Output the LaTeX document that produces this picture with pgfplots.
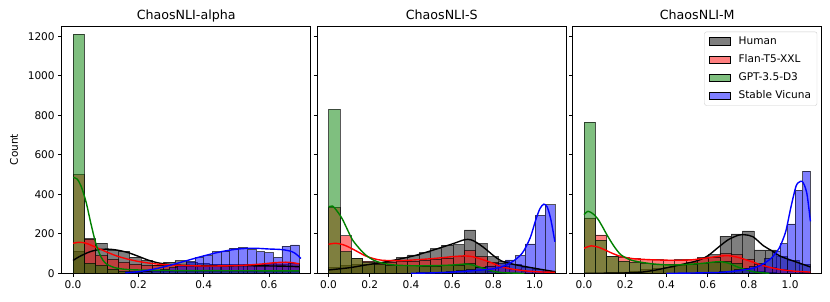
\documentclass[border=0pt]{standalone}
\usepackage{fontspec}
\setmainfont{DejaVu Sans}
\usepackage{pgfplots}
\usepackage{pgfplotstable}
\pgfplotsset{compat=1.18}
\definecolor{mplgreen}{HTML}{008000}

% ---------- ChaosNLI-alpha ----------
\pgfplotstableread{
x hum fla gpt
0.0000 112 500 1211
0.0347 175 173 52
0.0693 153 90 40
0.1040 116 70 22
0.1386 112 55 12
0.1733 82 45 9
0.2079 65 40 8
0.2426 43 40 8
0.2773 56 40 8
0.3119 64 38 8
0.3466 55 38 8
0.3812 50 38 8
0.4159 46 40 8
0.4505 45 40 9
0.4852 45 42 9
0.5199 45 45 10
0.5545 45 48 10
0.5892 45 52 10
0.6238 48 55 12
0.6585 50 50 12
0.6931 0 0 0
}\pA
\pgfplotstableread{
x v
0.1600 3
0.1867 5
0.2133 8
0.2400 13
0.2666 20
0.2933 28
0.3199 40
0.3466 60
0.3732 80
0.3999 90
0.4266 110
0.4532 113
0.4799 127
0.5065 130
0.5332 120
0.5598 110
0.5865 105
0.6132 80
0.6398 138
0.6665 144
0.6931 0
}\pAv
% ---------- ChaosNLI-S ----------
\pgfplotstableread{
x hum fla gpt
0.0000 30 334 830
0.0549 40 190 110
0.1099 45 75 76
0.1648 48 62 55
0.2197 52 58 45
0.2747 65 58 42
0.3296 80 60 40
0.3845 93 62 40
0.4394 105 65 38
0.4944 125 70 38
0.5493 143 78 40
0.6042 145 85 42
0.6592 220 115 50
0.7141 150 85 30
0.7690 85 55 12
0.8240 60 35 5
0.8789 45 22 2
0.9338 30 12 1
0.9887 20 8 0
1.0437 12 5 0
1.0986 0 0 0
}\pB
\pgfplotstableread{
x v
0.3306 1
0.3786 2
0.4266 3
0.4746 5
0.5226 7
0.5706 10
0.6186 14
0.6666 20
0.7146 28
0.7626 38
0.8106 50
0.8586 68
0.9066 90
0.9546 149
1.0026 293
1.0506 347
1.0986 0
}\pBv
% ---------- ChaosNLI-M ----------
\pgfplotstableread{
x hum fla gpt
0.0000 2 280 765
0.0549 2 195 168
0.1099 4 85 84
0.1648 7 80 62
0.2197 12 75 55
0.2747 18 70 50
0.3296 25 70 48
0.3845 32 68 45
0.4394 42 70 45
0.4944 55 72 48
0.5493 80 78 50
0.6042 95 82 55
0.6592 188 100 60
0.7141 200 95 50
0.7690 215 70 25
0.8240 118 45 10
0.8789 118 30 5
0.9338 85 18 2
0.9887 65 10 1
1.0437 45 5 0
1.0986 0 0 0
}\pC
\pgfplotstableread{
x v
0.4326 1
0.4696 1
0.5066 2
0.5436 3
0.5806 4
0.6176 6
0.6546 8
0.6916 12
0.7286 18
0.7656 25
0.8026 35
0.8396 50
0.8766 75
0.9136 110
0.9506 150
0.9876 250
1.0246 420
1.0616 517
1.0986 0
}\pCv

\pgfplotsset{
  histbase/.style={
    scale only axis, width=249bp, height=247.3bp,
    ymin=0, ymax=1252,
    axis line style={black, line width=0.8bp},
    tick align=outside, tick pos=left,
    major tick length=3.5bp,
    tick style={black, line width=0.8bp},
    ticklabel style={font=\fontsize{10.6}{12}\selectfont},
    /pgf/number format/assume math mode=true,
    /pgf/number format/1000 sep={},
    ytick={0,200,400,600,800,1000,1200},
    x tick label style={/pgf/number format/fixed, /pgf/number format/fixed zerofill, /pgf/number format/precision=1},
    every axis title/.style={at={(axis description cs:0.5,1)}, anchor=base, yshift=6bp, font=\fontsize{12.7}{15}\selectfont},
    every axis y label/.style={at={(axis description cs:-0.1916,0.5)}, rotate=90, anchor=center, font=\fontsize{10.6}{12}\selectfont},
  },
  hb/.style={ybar interval, fill=#1, fill opacity=0.5, draw=black, draw opacity=0.65, line width=0.55bp, forget plot},
  kd/.style={#1, line width=1.4bp, smooth, forget plot},
}

\begin{document}
\begin{tikzpicture}
% ===== Panel 1 =====
\begin{axis}[histbase, at={(61.7bp,28.7bp)}, anchor=south west,
  xmin=-0.0347, xmax=0.7278, xtick={0,0.2,0.4,0.6},
  title={ChaosNLI-alpha}, ylabel={Count}]
\addplot[hb=black] table[x=x,y=hum]{\pA};
\addplot[hb=red] table[x=x,y=fla]{\pA};
\addplot[hb=mplgreen] table[x=x,y=gpt]{\pA};
\addplot[hb=blue] table[x=x,y=v]{\pAv};
\addplot[kd=black] coordinates {(0,65) (0.02,85) (0.05,108) (0.08,120) (0.11,122) (0.14,116) (0.17,104) (0.2,86) (0.23,67) (0.26,53) (0.3,44) (0.35,40) (0.45,38) (0.55,38) (0.65,36) (0.693,33)};
\addplot[kd=red] coordinates {(0,152) (0.02,157) (0.04,152) (0.07,132) (0.1,110) (0.13,90) (0.16,75) (0.2,60) (0.25,48) (0.3,42) (0.4,37) (0.5,39) (0.57,46) (0.62,54) (0.66,56) (0.693,48)};
\addplot[kd=mplgreen] coordinates {(0,485) (0.012,478) (0.025,440) (0.04,360) (0.055,250) (0.07,150) (0.085,85) (0.1,50) (0.125,30) (0.16,20) (0.22,16) (0.3,14) (0.5,13) (0.693,12)};
\addplot[kd=blue] coordinates {(0.16,3) (0.2,8) (0.25,22) (0.3,42) (0.35,65) (0.4,88) (0.45,108) (0.5,122) (0.55,127) (0.6,123) (0.64,120) (0.67,110) (0.685,95) (0.698,75)};
\end{axis}
% ===== Panel 2 =====
\begin{axis}[histbase, at={(317.2bp,28.7bp)}, anchor=south west,
  xmin=-0.0549, xmax=1.1535, xtick={0,0.2,0.4,0.6,0.8,1.0}, yticklabels={},
  title={ChaosNLI-S}]
\addplot[hb=black] table[x=x,y=hum]{\pB};
\addplot[hb=red] table[x=x,y=fla]{\pB};
\addplot[hb=mplgreen] table[x=x,y=gpt]{\pB};
\addplot[hb=blue] table[x=x,y=v]{\pBv};
\addplot[kd=black] coordinates {(0,17) (0.1,28) (0.18,42) (0.26,55) (0.34,71) (0.42,90) (0.5,115) (0.56,135) (0.61,152) (0.66,170) (0.69,170) (0.72,155) (0.76,125) (0.8,90) (0.84,62) (0.9,45) (0.96,33) (1.03,20) (1.0986,8)};
\addplot[kd=red] coordinates {(0,147) (0.035,152) (0.07,145) (0.1,132) (0.14,110) (0.18,88) (0.22,74) (0.26,66) (0.34,64) (0.42,68) (0.5,74) (0.56,80) (0.61,85) (0.66,88) (0.7,84) (0.74,72) (0.78,58) (0.84,33) (0.9,20) (0.96,12) (1.03,7) (1.0986,5)};
\addplot[kd=mplgreen] coordinates {(0,336) (0.02,340) (0.045,310) (0.067,275) (0.09,225) (0.116,170) (0.15,125) (0.18,93) (0.22,66) (0.26,52) (0.32,42) (0.42,38) (0.52,39) (0.6,42) (0.65,46) (0.68,46) (0.72,36) (0.76,22) (0.8,10) (0.84,4) (0.9,1) (0.95,0)};
\addplot[kd=blue] coordinates {(0.4,0) (0.5,2) (0.6,6) (0.7,13) (0.78,20) (0.82,27) (0.86,40) (0.9,64) (0.93,90) (0.95,118) (0.98,183) (1.005,268) (1.026,327) (1.045,350) (1.061,336) (1.075,290) (1.085,240) (1.0986,160)};
\end{axis}
% ===== Panel 3 =====
\begin{axis}[histbase, at={(572.7bp,28.7bp)}, anchor=south west,
  xmin=-0.0549, xmax=1.1535, xtick={0,0.2,0.4,0.6,0.8,1.0}, yticklabels={},
  title={ChaosNLI-M},
  legend image code/.code={\draw[sharp corners, #1] (0bp,-3.7bp) rectangle (21bp,3.7bp); \path (27.5bp,0bp);},
  legend cell align=left,
  legend style={at={(axis description cs:0.982,0.977)}, anchor=north east,
    draw=black!20, fill=white, fill opacity=0.8, draw opacity=1, text opacity=1,
    rounded corners=2bp, font=\fontsize{10.6}{12}\selectfont,
    inner xsep=4bp, inner ysep=3bp, row sep=4.7bp}]
\addlegendimage{fill=black, fill opacity=0.5, draw=black, line width=0.6bp}
\addlegendentry{Human}
\addlegendimage{fill=red, fill opacity=0.5, draw=black, line width=0.6bp}
\addlegendentry{Flan-T5-XXL}
\addlegendimage{fill=mplgreen, fill opacity=0.5, draw=black, line width=0.6bp}
\addlegendentry{GPT-3.5-D3}
\addlegendimage{fill=blue, fill opacity=0.5, draw=black, line width=0.6bp}
\addlegendentry{Stable Vicuna}
\addplot[hb=black] table[x=x,y=hum]{\pC};
\addplot[hb=red] table[x=x,y=fla]{\pC};
\addplot[hb=mplgreen] table[x=x,y=gpt]{\pC};
\addplot[hb=blue] table[x=x,y=v]{\pCv};
\addplot[kd=black] coordinates {(0,0) (0.15,1) (0.26,4) (0.34,15) (0.41,30) (0.48,46) (0.55,64) (0.6,88) (0.65,130) (0.7,170) (0.75,193) (0.78,195) (0.82,185) (0.87,140) (0.91,115) (0.95,88) (1.0,68) (1.05,50) (1.0986,32)};
\addplot[kd=red] coordinates {(0,127) (0.035,139) (0.07,132) (0.1,119) (0.14,100) (0.18,85) (0.24,74) (0.34,68) (0.44,66) (0.52,68) (0.6,78) (0.65,86) (0.7,89) (0.75,80) (0.81,60) (0.86,42) (0.91,28) (0.96,18) (1.02,11) (1.0986,6)};
\addplot[kd=mplgreen] coordinates {(0,297) (0.02,314) (0.045,300) (0.067,275) (0.09,235) (0.116,186) (0.15,130) (0.18,93) (0.22,70) (0.26,59) (0.34,47) (0.42,42) (0.5,45) (0.58,51) (0.64,58) (0.67,58) (0.71,48) (0.74,34) (0.78,20) (0.82,8) (0.86,3) (0.9,0)};
\addplot[kd=blue] coordinates {(0.4,0) (0.5,1) (0.6,3) (0.653,4) (0.72,10) (0.78,18) (0.818,25) (0.86,42) (0.899,68) (0.925,95) (0.947,127) (0.965,170) (0.981,220) (1.005,339) (1.029,441) (1.045,462) (1.058,466) (1.07,445) (1.081,407) (1.09,340) (1.0986,263)};
\end{axis}
\pgfresetboundingbox
\useasboundingbox (0,0) rectangle (830bp,302bp);
\end{tikzpicture}
\end{document}
